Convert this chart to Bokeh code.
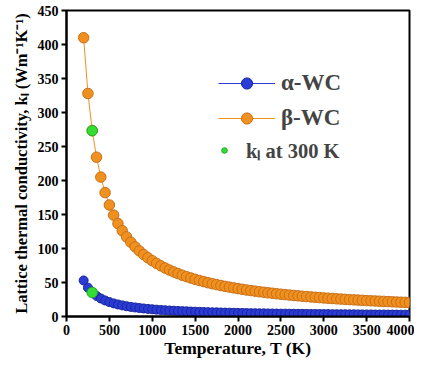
from bokeh.plotting import figure
from bokeh.models import Legend, LegendItem, Range1d, FixedTicker
from bokeh.embed import file_html
from bokeh.resources import INLINE

temps = list(range(200, 4001, 50))
beta_wc = [410, 328, 273.3, 234.3, 205, 182.2, 164, 149.1, 136.7, 126.2, 117.1, 109.3, 102.5, 96.5,
           91.1, 86.3, 82, 78.1, 74.5, 71.3, 68.3, 65.6, 63.1, 60.7, 58.6, 56.6, 54.7, 52.9, 51.3,
           49.7, 48.2, 46.9, 45.6, 44.3, 43.2, 42.1, 41, 40, 39, 38.1, 37.3, 36.4, 35.7, 34.9, 34.2,
           33.5, 32.8, 32.2, 31.5, 30.9, 30.4, 29.8, 29.3, 28.8, 28.3, 27.8, 27.3, 26.9, 26.5, 26.0,
           25.6, 25.2, 24.8, 24.5, 24.1, 23.8, 23.4, 23.1, 22.8, 22.5, 22.2, 21.9, 21.6, 21.3, 21.0,
           20.8, 20.5]
alpha_wc = [53, 42.4, 35.3, 30.3, 26.5, 23.6, 21.2, 19.3, 17.7, 16.3, 15.1, 14.1, 13.3, 12.5,
            11.8, 11.2, 10.6, 10.1, 9.6, 9.2, 8.8, 8.5, 8.2, 7.9, 7.6, 7.3, 7.1, 6.8, 6.6,
            6.4, 6.2, 6.1, 5.9, 5.7, 5.6, 5.4, 5.3, 5.2, 5.0, 4.9, 4.8, 4.7, 4.6, 4.5, 4.4,
            4.3, 4.2, 4.2, 4.1, 4.0, 3.9, 3.9, 3.8, 3.7, 3.7, 3.6, 3.5, 3.5, 3.4, 3.4,
            3.3, 3.3, 3.2, 3.2, 3.1, 3.1, 3.0, 3.0, 2.9, 2.9, 2.9, 2.8, 2.8, 2.8, 2.7,
            2.7, 2.7]
t300 = [300, 300]
k300 = [273.3, 35.3]

x_ticks = [0, 500, 1000, 1500, 2000, 2500, 3000, 3500, 4000]
y_ticks = [0, 50, 100, 150, 200, 250, 300, 350, 400, 450]

ORANGE = "#F0901E"
BLUE = "#2B3BD6"
GREEN = "#33DD33"
FONT = "Liberation Serif"

p = figure(width=414, height=360, output_backend="svg", toolbar_location=None,
           x_range=Range1d(0, 4000), y_range=Range1d(0, 450),
           min_border_left=66, min_border_right=5, min_border_top=10, min_border_bottom=41)

p.grid.visible = False
p.outline_line_color = "black"
p.outline_line_width = 2

ra_line = p.line(temps, alpha_wc, color=BLUE, line_width=1)
ra = p.scatter(temps, alpha_wc, size=9, fill_color=BLUE, line_color="#1A2699", line_width=1)
rb_line = p.line(temps, beta_wc, color=ORANGE, line_width=1)
rb = p.scatter(temps, beta_wc, size=10.5, fill_color=ORANGE, line_color="#C8701A", line_width=1)
rg = p.scatter(t300, k300, size=10.5, fill_color=GREEN, line_color="#22AA22", line_width=1)

for ax in (p.xaxis[0], p.yaxis[0]):
    ax.axis_line_width = 2
    ax.major_tick_line_width = 2
    ax.major_tick_out = 5
    ax.major_tick_in = 0
    ax.minor_tick_line_color = None
    ax.major_label_standoff = 3
    ax.major_label_text_font = FONT
    ax.major_label_text_font_style = "bold"
    ax.major_label_text_font_size = "14px"
    ax.major_label_text_color = "black"
    ax.axis_label_text_font = FONT
    ax.axis_label_text_font_style = "bold"
    ax.axis_label_text_color = "black"

p.xaxis[0].ticker = FixedTicker(ticks=x_ticks)
p.yaxis[0].ticker = FixedTicker(ticks=y_ticks)
p.xaxis[0].axis_label = "Temperature, T (K)"
p.xaxis[0].axis_label_text_font_size = "17.5px"
p.xaxis[0].axis_label_standoff = 0
p.yaxis[0].axis_label = "Lattice thermal conductivity, k\u2097 (Wm\u207b\u00b9K\u207b\u00b9)"
p.yaxis[0].axis_label_text_font_size = "16.5px"
p.yaxis[0].axis_label_standoff = 4

leg1 = Legend(items=[LegendItem(label="\u03b1-WC", renderers=[ra_line, ra]),
                     LegendItem(label="\u03b2-WC", renderers=[rb_line, rb])],
              location=(152, 184), glyph_width=57, glyph_height=28, label_height=28,
              spacing=7, padding=0, margin=0, label_standoff=6,
              label_text_font=FONT, label_text_font_style="bold", label_text_font_size="23px",
              border_line_alpha=0, background_fill_alpha=0)
leg2 = Legend(items=[LegendItem(label="k\u2097 at 300 K", renderers=[rg])],
              location=(151, 152), glyph_width=14, glyph_height=24, label_height=24,
              padding=0, margin=0, label_standoff=15,
              label_text_font=FONT, label_text_font_style="bold", label_text_font_size="20.5px",
              border_line_alpha=0, background_fill_alpha=0)
p.add_layout(leg1)
p.add_layout(leg2)

open("out.html", "w").write(file_html(p, INLINE))
